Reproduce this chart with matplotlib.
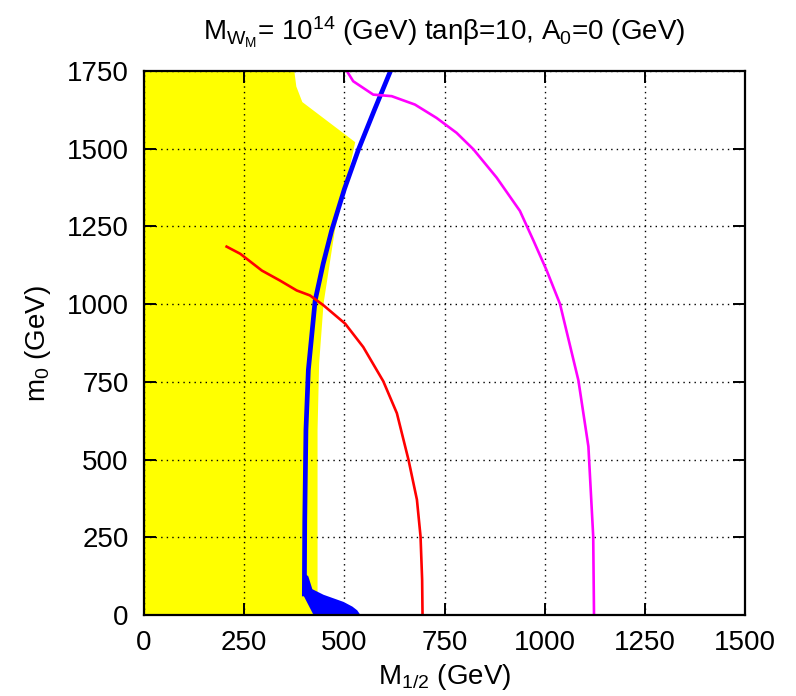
import numpy as np
import matplotlib.pyplot as plt

plt.rcParams['font.family'] = ['Liberation Sans', 'DejaVu Sans']
plt.rcParams['mathtext.fontset'] = 'custom'
plt.rcParams['mathtext.rm'] = 'Liberation Sans'
plt.rcParams['mathtext.it'] = 'Liberation Sans'

# excluded region (yellow)
yel_x = [0, 375, 380, 395, 527, 515, 497, 476, 448, 437, 433, 433, 0]
yel_y = [1750, 1750, 1700, 1650, 1521, 1450, 1354, 1236, 1002, 810, 595, 0, 0]

# blue band (thick line + filled bottom)
blue_x = [400, 401, 404, 410, 427, 447, 468, 500, 535, 575, 615]
blue_y = [60, 300, 595, 788, 1012, 1130, 1236, 1370, 1497, 1625, 1750]
bfill_x = [399, 399, 423, 540, 532, 520, 498, 448, 420, 410, 405]
bfill_y = [124, 60, 0, 0, 15, 27, 42, 65, 83, 124, 130]

# red contour
red_x = [206, 240, 294, 339, 381, 414, 448, 502, 547, 597, 631, 660, 681, 690, 694, 695]
red_y = [1185, 1162, 1108, 1076, 1044, 1028, 996, 937, 862, 752, 649, 499, 371, 253, 114, 0]

# magenta contour
mag_x = [506, 522, 572, 618, 676, 730, 780, 822, 880, 938, 972, 1005, 1038, 1084, 1109, 1121, 1123]
mag_y = [1750, 1717, 1674, 1669, 1642, 1599, 1551, 1498, 1407, 1300, 1204, 1108, 1001, 755, 542, 253, 0]

fig = plt.figure(figsize=(7.96, 6.96), dpi=100)
ax = fig.add_axes([0.181, 0.1164, 0.755, 0.7816])

ax.fill(yel_x, yel_y, color='#ffff00', lw=0, zorder=1)
ax.fill(bfill_x, bfill_y, color='#0000ff', lw=0, zorder=2)
ax.plot(blue_x, blue_y, color='#0000ff', lw=3.4, zorder=3, solid_capstyle='butt')
ax.plot(red_x, red_y, color='#ff0000', lw=1.9, zorder=4, solid_joinstyle='round')
ax.plot(mag_x, mag_y, color='#ff00ff', lw=1.9, zorder=4, solid_joinstyle='round')

ax.set_xlim(0, 1500)
ax.set_ylim(0, 1750)
ax.set_xticks(np.arange(0, 1501, 250))
ax.set_yticks(np.arange(0, 1751, 250))
ax.grid(True, color='black', linestyle=(0, (1, 3)), lw=1, zorder=2.5)
ax.tick_params(direction='in', top=True, right=True, length=8.5, width=1.4, labelsize=20, pad=11)
for s in ax.spines.values():
    s.set_linewidth(1.6)
    s.set_zorder(5)

ax.set_xlabel(r'M$_{1/2}$ (GeV)', fontsize=20, labelpad=4)
ax.set_ylabel(r'm$_0$ (GeV)', fontsize=20, labelpad=10)
ax.set_title(r'M$_{W_M}$= 10$^{14}$ (GeV) tan$\beta$=10, A$_0$=0 (GeV)', fontsize=20, pad=22)

fig.savefig('out.png', dpi=100)
